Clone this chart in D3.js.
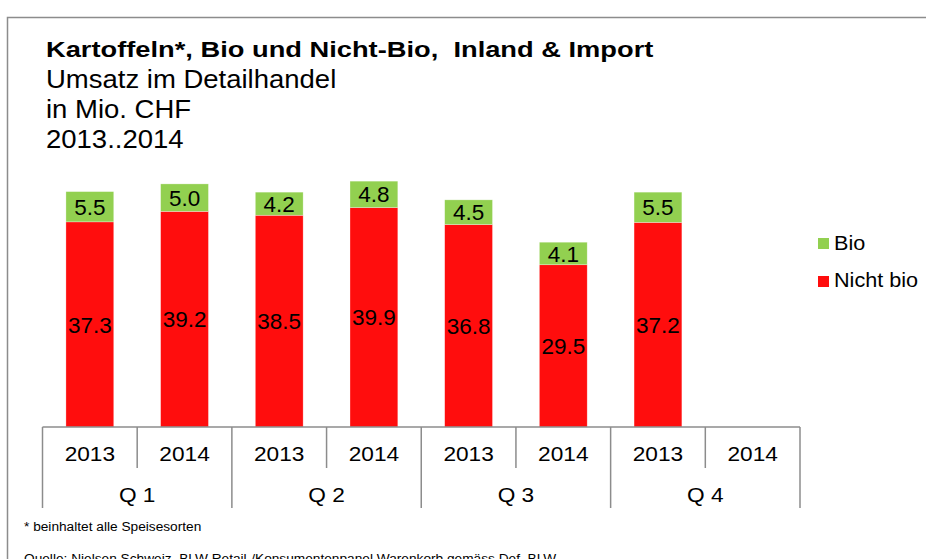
<!DOCTYPE html>
<html>
<head>
<meta charset="utf-8">
<script src="https://cdn.jsdelivr.net/npm/d3@7"></script>
<style>
  html, body { margin: 0; padding: 0; background: #fff; }
  svg { display: block; font-family: "Liberation Sans", Arial, sans-serif; }
</style>
</head>
<body>
<svg id="chart" width="926" height="559"></svg>
<script>
// Quarterly retail sales of potatoes, in million CHF
const quarters = ["Q 1", "Q 2", "Q 3", "Q 4"];
const years = ["2013", "2014"];
const bio     = [5.5, 5.0, 4.2, 4.8, 4.5, 4.1, 5.5, null];
const nichtBio = [37.3, 39.2, 38.5, 39.9, 36.8, 29.5, 37.2, null];
const seriesNames = ["Bio", "Nicht bio"];
const seriesColors = ["#92D050", "#FF0D0D"];
const titleLines = ["Umsatz im Detailhandel", "in Mio. CHF", "2013..2014"];

const svg = d3.select("#chart");

// place a text at (px, py) with a horizontal stretch factor
function placeText(sel, px, py, sx) {
  sel.attr("x", 0).attr("y", 0)
     .attr("transform", (d, i) => {
       const X = typeof px === "function" ? px(d, i) : px;
       const Y = typeof py === "function" ? py(d, i) : py;
       return `translate(${X},${Y}) scale(${sx},1)`;
     });
  return sel;
}

// outer frame
svg.append("rect")
  .attr("x", 7.5).attr("y", 17.5)
  .attr("width", 940).attr("height", 600)
  .attr("fill", "none").attr("stroke", "#8c8c8c").attr("stroke-width", 1.5);

// title block
placeText(svg.append("text"), 46, 57, 1.24)
  .attr("font-size", 22).attr("font-weight", "bold").attr("fill", "#000")
  .style("white-space", "pre")
  .text("Kartoffeln*, Bio und Nicht-Bio,  Inland & Import");
placeText(svg.selectAll("text.sub").data(titleLines).join("text").attr("class", "sub"),
    46, (d, i) => 88 + i * 30, 1.10)
  .attr("font-size", 25).attr("fill", "#000")
  .text(d => d);

// category slots (quarter x year)
const cats = [];
quarters.forEach(q => years.forEach(y => cats.push(q + "|" + y)));

const x = d3.scaleBand().domain(cats).range([42.5, 800]).paddingInner(0).paddingOuter(0);
const y = d3.scaleLinear().domain([0, 50]).range([427, 152]);

const rows = cats.map((c, i) => ({ key: c, bio: bio[i], nicht: nichtBio[i] }))
  .filter(d => d.bio != null && d.nicht != null);
const stack = d3.stack().keys(["nicht", "bio"])(rows);

const barW = x.bandwidth() * 0.505;
const g = svg.append("g");
const colorOf = { nicht: seriesColors[1], bio: seriesColors[0] };

stack.forEach(layer => {
  g.selectAll(null).data(layer).join("rect")
    .attr("x", d => x(d.data.key) + (x.bandwidth() - barW) / 2)
    .attr("y", d => y(d[1]))
    .attr("width", barW)
    .attr("height", d => y(d[0]) - y(d[1]))
    .attr("fill", colorOf[layer.key])
    .attr("stroke", "#ffffff").attr("stroke-opacity", 0.5).attr("stroke-width", 0.6);

  placeText(g.selectAll(null).data(layer).join("text"),
      d => x(d.data.key) + x.bandwidth() / 2,
      d => (y(d[0]) + y(d[1])) / 2, 1.0)
    .attr("dy", "0.36em")
    .attr("text-anchor", "middle")
    .attr("font-size", 22.5).attr("fill", "#000")
    .text(d => d3.format(".1f")(d[1] - d[0]));
});

// two-level category axis
const axis = svg.append("g").attr("stroke", "#8c8c8c").attr("stroke-width", 1.5);
axis.append("line")
  .attr("x1", 42.5).attr("x2", 800).attr("y1", 427).attr("y2", 427);

const bounds = cats.map(c => x(c)).concat([x.range()[1]]);
axis.selectAll(null).data(bounds).join("line")
  .attr("x1", d => d).attr("x2", d => d)
  .attr("y1", 427)
  .attr("y2", (d, i) => (i % 2 === 0 ? 508 : 468));

placeText(svg.selectAll("text.year").data(cats).join("text").attr("class", "year"),
    d => x(d) + x.bandwidth() / 2, 461, 1.08)
  .attr("text-anchor", "middle")
  .attr("font-size", 21).attr("fill", "#000")
  .text(d => d.split("|")[1]);

placeText(svg.selectAll("text.quarter").data(quarters).join("text").attr("class", "quarter"),
    q => x(q + "|2013") + x.bandwidth(), 502, 1.08)
  .attr("text-anchor", "middle")
  .attr("font-size", 21).attr("fill", "#000")
  .text(q => q);

// legend
const legend = svg.append("g");
seriesNames.forEach((name, i) => {
  legend.append("rect")
    .attr("x", 818).attr("y", 238 + i * 38)
    .attr("width", 11).attr("height", 11)
    .attr("fill", seriesColors[i]);
  placeText(legend.append("text"), 834, 250 + i * 37, 1.03)
    .attr("font-size", 21).attr("fill", "#000")
    .text(name);
});

// footnotes
svg.append("text")
  .attr("x", 24).attr("y", 531)
  .attr("font-size", 13.7).attr("fill", "#000")
  .text("* beinhaltet alle Speisesorten");
svg.append("text")
  .attr("x", 24).attr("y", 563)
  .attr("font-size", 13.7).attr("fill", "#000")
  .text("Quelle: Nielsen Schweiz, BLW Retail-/Konsumentenpanel Warenkorb gemäss Def. BLW");
</script>
</body>
</html>
